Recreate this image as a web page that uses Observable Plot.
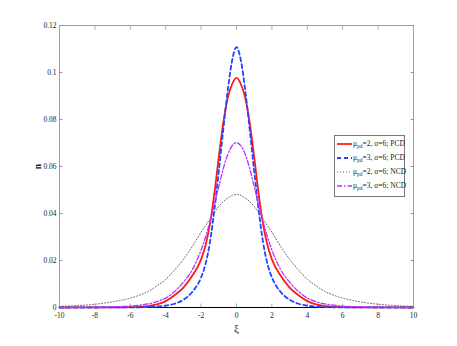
<!DOCTYPE html>
<html>
<head>
<meta charset="utf-8">
<script src="https://cdn.jsdelivr.net/npm/d3@7"></script>
<script src="https://cdn.jsdelivr.net/npm/@observablehq/plot@0.6"></script>
<style>
  html, body { margin: 0; padding: 0; background: #fff; }
  #wrap { position: relative; width: 457px; height: 346px; }
  #legend { position: absolute; left: 334px; top: 135px; width: 71px; height: 62px; border: 1px solid #777; background: #fff;
    font-family: "Liberation Serif", serif; font-size: 7.5px; color: #222; box-sizing: border-box; }
  .row { position: absolute; left: 2px; height: 12px; display: flex; align-items: center; white-space: nowrap; }
  .row svg { margin-right: 1px; }
  sub { font-size: 5.5px; vertical-align: -2px; }
</style>
</head>
<body>
<div id="wrap"></div>
<script>
const xi = [-10,-9,-8,-7,-6,-5.5,-5,-4.5,-4,-3.5,-3,-2.5,-2,-1.75,-1.5,-1.25,-1,-0.75,-0.5,-0.25,0,0.25,0.5,0.75,1,1.25,1.5,1.75,2,2.5,3,3.5,4,4.5,5,5.5,6,7,8,9,10];
const pcd2 = [0.00001,0.00002,0.00003,0.00006,0.00015,0.0003,0.0006,0.0013,0.0027,0.0052,0.0085,0.0135,0.0205,0.0265,0.0355,0.0485,0.0640,0.0785,0.0890,0.0950,0.0977,0.0950,0.0890,0.0785,0.0640,0.0485,0.0355,0.0265,0.0205,0.0135,0.0085,0.0052,0.0027,0.0013,0.0006,0.0003,0.00015,0.00006,0.00003,0.00002,0.00001];
const pcd3 = [0.00001,0.00001,0.00001,0.00002,0.00005,0.0001,0.0002,0.0004,0.0008,0.0016,0.0033,0.0066,0.0128,0.0185,0.0278,0.0415,0.0580,0.0755,0.0920,0.1050,0.1108,0.1050,0.0920,0.0755,0.0580,0.0415,0.0278,0.0185,0.0128,0.0066,0.0033,0.0016,0.0008,0.0004,0.0002,0.0001,0.00005,0.00002,0.00001,0.00001,0.00001];
const ncd2 = [0.0005,0.0008,0.0014,0.0024,0.0040,0.0052,0.0068,0.0092,0.0120,0.0160,0.0205,0.0260,0.0320,0.0348,0.0377,0.0405,0.0430,0.0450,0.0465,0.0477,0.0481,0.0477,0.0465,0.0450,0.0430,0.0405,0.0377,0.0348,0.0320,0.0260,0.0205,0.0160,0.0120,0.0092,0.0068,0.0052,0.0040,0.0024,0.0014,0.0008,0.0005];
const ncd3 = [0.00005,0.00008,0.00015,0.0003,0.0006,0.0010,0.0015,0.0025,0.0040,0.0068,0.0108,0.0160,0.0245,0.0300,0.0365,0.0440,0.0515,0.0590,0.0650,0.0688,0.0701,0.0688,0.0650,0.0590,0.0515,0.0440,0.0365,0.0300,0.0245,0.0160,0.0108,0.0068,0.0040,0.0025,0.0015,0.0010,0.0006,0.0003,0.00015,0.00008,0.00005];
const xTicks = [-10,-8,-6,-4,-2,0,2,4,6,8,10];
const yTicks = [0,0.02,0.04,0.06,0.08,0.1,0.12];
const seriesNames = ["μpd=2, σ=6; PCD","μpd=3, σ=6; PCD","μpd=2, σ=6; NCD","μpd=3, σ=6; NCD"];

const toRows = (arr) => xi.map((x, i) => ({x, n: arr[i]}));
const font = "Liberation Serif";

const styles = [
  {data: pcd2, stroke: "#ff1a1a", strokeWidth: 1.8, dash: null},
  {data: pcd3, stroke: "#2244ff", strokeWidth: 1.8, dash: "4,3"},
  {data: ncd2, stroke: "#555555", strokeWidth: 0.9, dash: "1,2"},
  {data: ncd3, stroke: "#b833ff", strokeWidth: 1.3, dash: "5,2,1.5,2"}
];

const chart = Plot.plot({
  width: 457, height: 346,
  marginLeft: 59, marginRight: 44, marginTop: 25, marginBottom: 39,
  style: {fontFamily: font, fontSize: "7.5px", color: "#222", background: "#fff"},
  x: {domain: [-10, 10]},
  y: {domain: [0, 0.12]},
  marks: [
    Plot.frame({stroke: "#888", strokeWidth: 0.8}),
    Plot.axisY(yTicks, {anchor: "left", tickSize: 0, tickPadding: 3, tickFormat: d => String(d), label: null, fontSize: "7.5px"}),
    Plot.axisY({anchor: "left", ticks: [], label: "n", labelAnchor: "center", labelArrow: "none", labelOffset: 25, fontSize: "9.5px", fontWeight: "bold"}),
    Plot.axisY(yTicks, {anchor: "left", tickSize: -3.5, tickFormat: () => "", label: null, stroke: "#999"}),
    Plot.axisY(yTicks, {anchor: "right", tickSize: -3.5, tickFormat: () => "", label: null, stroke: "#999"}),
    Plot.axisX(xTicks, {anchor: "bottom", tickSize: 0, tickPadding: 5, tickFormat: d => String(d), label: null, fontSize: "7.5px"}),
    Plot.axisX({anchor: "bottom", ticks: [], label: "ξ", labelAnchor: "center", labelArrow: "none", labelOffset: 24, fontSize: "11px"}),
    Plot.axisX(xTicks, {anchor: "bottom", tickSize: -3.5, tickFormat: () => "", label: null, stroke: "#aaa"}),
    Plot.axisX(xTicks, {anchor: "top", tickSize: -3.5, tickFormat: () => "", label: null, stroke: "#aaa"}),
    Plot.ruleY([0], {stroke: "#000", strokeWidth: 1}),
    ...styles.map(s => Plot.line(toRows(s.data), {x: "x", y: "n", stroke: s.stroke, strokeWidth: s.strokeWidth, strokeDasharray: s.dash, curve: "monotone-x"}))
  ]
});
document.getElementById("wrap").appendChild(chart);

// legend
const legend = document.createElement("div");
legend.id = "legend";
const tops = [2, 16, 30, 44];
styles.forEach((s, i) => {
  const row = document.createElement("div");
  row.className = "row";
  row.style.top = tops[i] + "px";
  const dash = s.dash ? `stroke-dasharray="${s.dash}"` : "";
  const name = seriesNames[i].replace("μpd", "μ<sub>pd</sub>");
  row.innerHTML = `<svg width="15" height="6"><line x1="0" y1="3" x2="15" y2="3" stroke="${s.stroke}" stroke-width="${s.strokeWidth}" ${dash}/></svg><span>${name}</span>`;
  legend.appendChild(row);
});
document.getElementById("wrap").appendChild(legend);
</script>
</body>
</html>
